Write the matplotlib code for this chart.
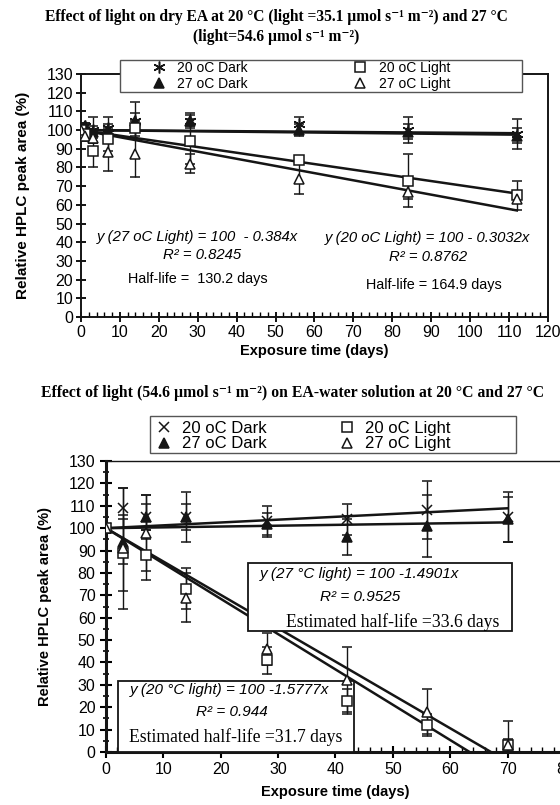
import matplotlib
matplotlib.use("Agg")
import matplotlib.pyplot as plt
import numpy as np
from matplotlib.patches import Rectangle
from matplotlib.ticker import MultipleLocator
from matplotlib.lines import Line2D

SANS = ["Liberation Sans", "DejaVu Sans"]
SERIF = ["Liberation Serif", "DejaVu Serif"]
plt.rcParams["font.family"] = SANS

# ---- top panel: dry EA ----
days_top = [0, 1, 3, 7, 14, 28, 56, 84, 112]
dark20_top = [100, 102, 100, 101, 105, 105, 103, 100, 98]
dark20_top_err = [1, 2, 7, 6, 10, 4, 4, 7, 8]
dark27_top = [100, 102, 99, 100, 105, 105, 100, 99, 97]
dark27_top_err = [1, 2, 3, 3, 4, 3, 3, 4, 4]
light20_top = [100, 98, 89, 95, 101, 94, 84, 73, 65]
light20_top_err = [1, 3, 9, 6, 4, 12, 2, 14, 8]
light27_top = [100, 97, 96, 88, 87, 82, 74, 67, 63]
light27_top_err = [1, 3, 3, 10, 12, 5, 8, 4, 2]
# fitted lines: intercept, slope
fit_top = {"dark20": (100, -0.015), "dark27": (100, -0.022),
           "light20": (100, -0.3032), "light27": (100, -0.384)}

# ---- bottom panel: EA-water solution ----
days_bot = [0, 3, 7, 14, 28, 42, 56, 70]
dark20_bot = [100, 109, 105, 105, 103, 104, 108, 105]
dark20_bot_err = [1, 9, 10, 11, 7, 7, 13, 11]
dark27_bot = [100, 94, 105, 105, 102, 96, 101, 104]
dark27_bot_err = [1, 10, 6, 6, 5, 8, 14, 10]
light20_bot = [100, 89, 88, 73, 41, 23, 12, 3]
light20_bot_err = [1, 17, 11, 9, 6, 5, 5, 3]
light27_bot = [100, 91, 98, 69, 46, 32, 18, 3]
light27_bot_err = [1, 27, 17, 11, 7, 15, 10, 11]
fit_bot = {"dark20": (100, 0.127), "dark27": (100, 0.037),
           "light20": (100, -1.5777), "light27": (100, -1.4901)}

labels = ["20 oC Dark", "27 oC Dark", "20 oC Light", "27 oC Light"]

K = "#151515"
fig = plt.figure(figsize=(5.6, 8.05), dpi=100)


def draw_series(ax, x, ys, errs, markers):
    for y, e, (m, fc, ms) in zip(ys, errs, markers):
        ax.errorbar(x, y, yerr=e, marker=m, linestyle="none", color=K, mfc=fc,
                    mec=K, ms=ms, elinewidth=1.0, capsize=3.5, capthick=1.0,
                    mew=1.1, zorder=7)


def draw_fits(ax, xmax, fits):
    xs = np.array([0, xmax])
    for b, m in fits.values():
        ax.plot(xs, b + m * xs, color=K, lw=1.8, zorder=3)


# ================= top chart =================
fig.text(0.493, 0.979, "Effect of light on dry EA at 20 \u00b0C (light =35.1 \u00b5mol s\u207b\u00b9 m\u207b\u00b2) and 27 \u00b0C",
         ha="center", va="center", fontsize=11.2, fontweight="bold", family=SERIF)
fig.text(0.493, 0.954, "(light=54.6 \u00b5mol s\u207b\u00b9 m\u207b\u00b2)",
         ha="center", va="center", fontsize=11.2, fontweight="bold", family=SERIF)

ax1 = fig.add_axes([0.1446, 0.6062, 0.834, 0.3019])
markers_top = [((6, 2, 0), K, 8.5), ("^", K, 6.5), ("s", "white", 6.5), ("^", "white", 6.5)]
draw_fits(ax1, 112, fit_top)
draw_series(ax1, days_top,
            [dark20_top, dark27_top, light20_top, light27_top],
            [dark20_top_err, dark27_top_err, light20_top_err, light27_top_err],
            markers_top)
ax1.set_xlim(0, 120)
ax1.set_ylim(0, 130)
ax1.xaxis.set_major_locator(MultipleLocator(10))
ax1.xaxis.set_minor_locator(MultipleLocator(2))
ax1.yaxis.set_major_locator(MultipleLocator(10))
ax1.tick_params(axis="x", which="major", direction="inout", length=7, width=1.3, labelsize=11.5, pad=2)
ax1.tick_params(axis="x", which="minor", direction="in", length=3.5, width=1.0)
ax1.tick_params(axis="y", which="major", direction="inout", length=7, width=1.3, labelsize=11.5, pad=2)
for s in ax1.spines.values():
    s.set_linewidth(1.4)
    s.set_color(K)
ax1.set_xlabel("Exposure time (days)", fontsize=10.5, fontweight="bold", labelpad=3)
ax1.set_ylabel("Relative HPLC peak area (%)", fontsize=11, fontweight="bold", labelpad=12)

ax1.text(30, 42.8, "y (27 oC Light) = 100  - 0.384x", ha="center", va="center", fontsize=10.7, style="italic")
ax1.text(31, 33, "R\u00b2 = 0.8245", ha="center", va="center", fontsize=10.7, style="italic")
ax1.text(30, 20.3, "Half-life =  130.2 days", ha="center", va="center", fontsize=10.4)
ax1.text(89, 42.3, "y (20 oC Light) = 100 - 0.3032x", ha="center", va="center", fontsize=10.7, style="italic")
ax1.text(89.2, 32, "R\u00b2 = 0.8762", ha="center", va="center", fontsize=10.7, style="italic")
ax1.text(90.7, 17, "Half-life = 164.9 days", ha="center", va="center", fontsize=10.4)

# legend frame + entries
fig.patches.append(Rectangle((0.2143, 0.8857), 0.7179, 0.0398, transform=fig.transFigure,
                             fill=True, fc="white", ec="#555555", lw=1.0, zorder=5))
h_top = [Line2D([], [], ls="none", marker=m, color=K, mfc=fc, mec=K, ms=ms, mew=1.1)
         for m, fc, ms in markers_top]
fig.legend(h_top, labels, ncol=2, loc="upper left", bbox_to_anchor=(0.272, 0.9245),
           frameon=False, fontsize=10, handlelength=1.0, handletextpad=0.8,
           columnspacing=7.6, borderpad=0, borderaxespad=0, labelspacing=0.15)

# ================= bottom chart =================
fig.text(0.523, 0.512, "Effect of light (54.6 \u00b5mol s\u207b\u00b9 m\u207b\u00b2) on EA-water solution at 20 \u00b0C and 27 \u00b0C",
         ha="center", va="center", fontsize=11.3, fontweight="bold", family=SERIF)

ax2 = fig.add_axes([0.1893, 0.0658, 0.8196, 0.3615])
markers_bot = [("x", K, 7), ("^", K, 6.5), ("s", "white", 6.5), ("^", "white", 6.5)]
draw_fits(ax2, 70, fit_bot)
draw_series(ax2, days_bot,
            [dark20_bot, dark27_bot, light20_bot, light27_bot],
            [dark20_bot_err, dark27_bot_err, light20_bot_err, light27_bot_err],
            markers_bot)
ax2.set_xlim(0, 80)
ax2.set_ylim(0, 130)
ax2.xaxis.set_major_locator(MultipleLocator(10))
ax2.xaxis.set_minor_locator(MultipleLocator(2))
ax2.yaxis.set_major_locator(MultipleLocator(10))
ax2.yaxis.set_minor_locator(MultipleLocator(5))
ax2.tick_params(axis="x", which="major", direction="inout", length=8, width=1.5, labelsize=11.5, pad=3)
ax2.tick_params(axis="x", which="minor", direction="in", length=3.5, width=1.0)
ax2.tick_params(axis="y", which="major", direction="inout", length=9, width=1.5, labelsize=11.5, pad=3)
ax2.tick_params(axis="y", which="minor", direction="inout", length=5, width=1.2)
ax2.spines["right"].set_visible(False)
ax2.spines["left"].set_linewidth(2.2)
ax2.spines["bottom"].set_linewidth(2.2)
ax2.spines["top"].set_linewidth(1.0)
for s in ax2.spines.values():
    s.set_color(K)
ax2.set_xlabel("Exposure time (days)", fontsize=10.5, fontweight="bold", labelpad=6)
ax2.set_ylabel("Relative HPLC peak area (%)", fontsize=10.5, fontweight="bold", labelpad=12)

# equation boxes
ax2.add_patch(Rectangle((24.7, 54.0), 46.1, 30.4, fc="white", ec=K, lw=1.3, zorder=5))
ax2.text(26.8, 79.5, "y (27 \u00b0C light) = 100 -1.4901x", ha="left", va="center", fontsize=11, style="italic", zorder=8)
ax2.text(44.3, 69.3, "R\u00b2 = 0.9525", ha="center", va="center", fontsize=11, style="italic", zorder=8)
ax2.text(31.3, 58.1, "Estimated half-life =33.6 days", ha="left", va="center", fontsize=12.7, family=SERIF, zorder=8)

ax2.add_patch(Rectangle((2.1, 0.0), 41.1, 31.7, fc="white", ec=K, lw=1.3, zorder=5))
ax2.text(4.2, 27.7, "y (20 \u00b0C light) = 100 -1.5777x", ha="left", va="center", fontsize=11, style="italic", zorder=8)
ax2.text(22, 17.9, "R\u00b2 = 0.944", ha="center", va="center", fontsize=11, style="italic", zorder=8)
ax2.text(4.0, 6.7, "Estimated half-life =31.7 days", ha="left", va="center", fontsize=12.7, family=SERIF, zorder=8)

fig.patches.append(Rectangle((0.268, 0.4373), 0.653, 0.0459, transform=fig.transFigure,
                             fill=True, fc="white", ec="#555555", lw=1.0, zorder=5))
h_bot = [Line2D([], [], ls="none", marker=m, color=K, mfc=fc, mec=K, ms=ms, mew=1.1)
         for m, fc, ms in markers_bot]
fig.legend(h_bot, labels, ncol=2, loc="upper left", bbox_to_anchor=(0.278, 0.4775),
           frameon=False, fontsize=12, handlelength=1.0, handletextpad=0.6,
           columnspacing=4.3, borderpad=0, borderaxespad=0, labelspacing=0.05)

fig.savefig("out.png", dpi=100)
plt.close(fig)
